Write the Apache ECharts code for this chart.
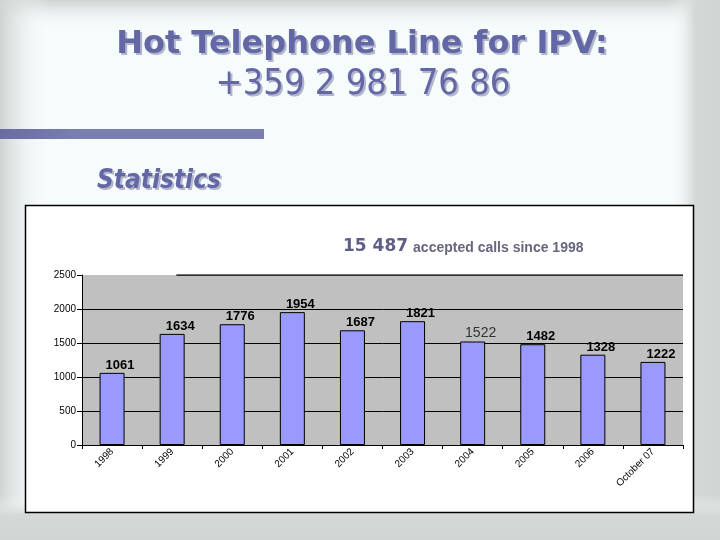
<!DOCTYPE html>
<html>
<head>
<meta charset="utf-8">
<script src="https://cdn.jsdelivr.net/npm/echarts@6/dist/echarts.min.js"></script>
<style>
html,body{margin:0;padding:0;background:#f6fcfc;}
#c{width:720px;height:540px;}
</style>
</head>
<body>
<div id="c"></div>
<script>
const categories = ['1998','1999','2000','2001','2002','2003','2004','2005','2006','October 07'];
const calls = [1061,1634,1776,1954,1687,1821,1522,1482,1328,1222];
const yTicks = [0,500,1000,1500,2000,2500];
const heading1 = 'Hot Telephone Line for IPV:';
const heading2 = '+359 2 981 76 86';
const subHeading = 'Statistics';
const totalText = '15 487';
const totalCaption = 'accepted calls since 1998';

const chart = echarts.init(document.getElementById('c'), null, {renderer:'canvas'});
const titleColor = '#6467a6';
const shadowColor = '#b4b6cc';

function shadowed(x, y, text, font, align){
  return [
    {type:'text', x:x+2, y:y+2, z:-5, silent:true, style:{text:text, font:font, fill:shadowColor, align:align, verticalAlign:'middle'}},
    {type:'text', x:x, y:y, z:-4, silent:true, style:{text:text, font:font, fill:titleColor, align:align, verticalAlign:'middle'}}
  ];
}

const seriesData = calls.map((v,i)=>{
  if (v === 1522) return {value:v, label:{fontWeight:'normal', color:'#333', fontSize:14}};
  return v;
});

const option = {
  backgroundColor:'#f6fcfc',
  animation:false,
  graphic:[
    {type:'rect', z:-20, silent:true, shape:{x:0,y:0,width:720,height:30},
     style:{fill:new echarts.graphic.LinearGradient(0,0,0,1,[{offset:0,color:'#cfd3d2'},{offset:1,color:'rgba(246,252,252,0)'}])}},
    {type:'rect', z:-20, silent:true, shape:{x:0,y:0,width:50,height:540},
     style:{fill:new echarts.graphic.LinearGradient(0,0,1,0,[{offset:0,color:'#cfd3d2'},{offset:1,color:'rgba(246,252,252,0)'}])}},
    {type:'rect', z:-20, silent:true, shape:{x:670,y:0,width:50,height:540},
     style:{fill:new echarts.graphic.LinearGradient(0,0,1,0,[{offset:0,color:'rgba(246,252,252,0)'},{offset:0.5,color:'#d4d8d7'},{offset:1,color:'#d0d4d3'}])}},
    {type:'rect', z:-20, silent:true, shape:{x:0,y:495,width:720,height:45},
     style:{fill:new echarts.graphic.LinearGradient(0,0,0,1,[{offset:0,color:'rgba(246,252,252,0)'},{offset:0.45,color:'#d4d8d7'},{offset:1,color:'#d0d4d3'}])}},
    {type:'rect', z:-15, silent:true, shape:{x:0,y:129,width:264,height:10},
     style:{fill:new echarts.graphic.LinearGradient(0,0,1,0,[{offset:0,color:'#6a6ca2'},{offset:0.3,color:'#7a7eb0'},{offset:1,color:'#7b7fb0'}])}},
    {type:'rect', z:-12, silent:true, shape:{x:25.5,y:205.5,width:668,height:307},
     style:{fill:'#ffffff', stroke:'#000', lineWidth:1.5}},
    ...shadowed(362, 45, heading1, 'bold 32px "DejaVu Sans"', 'center'),
    ...shadowed(363, 85, heading2, '36px "DejaVu Sans Condensed"', 'center'),
    ...shadowed(97, 181, subHeading, 'italic bold 26px "DejaVu Sans Condensed"', 'left')
  ],
  title:{
    text:'{a|' + totalText + '} {b|' + totalCaption + '}',
    left:338, top:233,
    textStyle:{
      rich:{
        a:{fontFamily:'DejaVu Sans', fontWeight:'bold', fontSize:17, color:'#5f5f85'},
        b:{fontFamily:'Arial, Liberation Sans', fontWeight:'bold', fontSize:14, color:'#66667f', padding:[2,0,0,0]}
      }
    }
  },
  grid:{left:82, right:37, top:275, bottom:95, show:true, backgroundColor:'#c0c0c0', borderWidth:0},
  xAxis:[{
    type:'category', data:categories,
    axisLine:{lineStyle:{color:'#000', width:1}},
    axisTick:{show:true, length:4, lineStyle:{color:'#000'}},
    axisLabel:{rotate:45, fontFamily:'Arial, Liberation Sans', fontSize:10, color:'#000', margin:5, interval:0},
    splitLine:{show:false}
  },{
    type:'value', min:0, max:10, show:false
  }],
  yAxis:{
    type:'value', min:yTicks[0], max:yTicks[yTicks.length-1], interval:500,
    axisLine:{show:true, lineStyle:{color:'#000', width:1}},
    axisTick:{show:true, length:5, lineStyle:{color:'#000'}},
    axisLabel:{fontFamily:'Arial, Liberation Sans', fontSize:10, color:'#000', margin:6, formatter:function(v){return String(v);}},
    splitLine:{show:true, showMaxLine:false, showMinLine:false, lineStyle:{color:'#000', width:1}}
  },
  series:[{
    type:'bar', data:seriesData, barWidth:25,
    itemStyle:{color:'#9999ff', borderColor:'#000', borderWidth:1},
    label:{show:true, position:'top', distance:1, offset:[8,0], fontFamily:'Arial, Liberation Sans', fontWeight:'bold', fontSize:13, color:'#000'}
  },{
    type:'line', xAxisIndex:1, data:[[1.57, yTicks[yTicks.length-1]],[10, yTicks[yTicks.length-1]]],
    symbol:'none', silent:true, lineStyle:{color:'#000', width:1.5}, z:3
  }]
};
chart.setOption(option);
</script>
</body>
</html>
